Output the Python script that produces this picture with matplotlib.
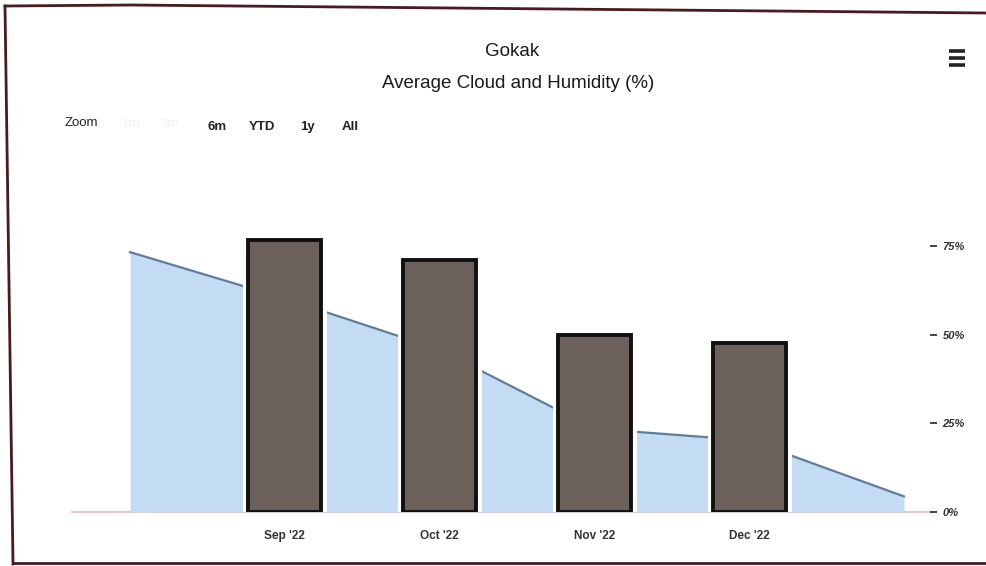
import matplotlib
matplotlib.use("Agg")
import matplotlib.pyplot as plt
from matplotlib.lines import Line2D
import matplotlib.patheffects as pe

# ---- data ----
area_positions = [0, 1, 2, 3, 4, 5]          # Aug '22 .. Jan '23
area_values = [73.3, 60.2, 45.8, 23.5, 20.2, 4.4]
bar_positions = [1, 2, 3, 4]
bar_labels = ["Sep '22", "Oct '22", "Nov '22", "Dec '22"]
bar_values = [76.7, 71.0, 49.9, 47.6]
y_ticks = [0, 25, 50, 75]
y_tick_labels = ["0%", "25%", "50%", "75%"]
title = "Gokak"
subtitle = "Average Cloud and Humidity (%)"
range_buttons = ["6m", "YTD", "1y", "All"]

W, H = 986, 566
fig = plt.figure(figsize=(W / 100, H / 100), dpi=100)
fig.patch.set_facecolor("white")

def fx(px):
    return px / W

def fy(py):
    return 1 - py / H

ax_left, ax_right, ax_top, ax_bottom = 72, 930, 200, 512
ax = fig.add_axes([fx(ax_left), fy(ax_bottom), fx(ax_right - ax_left), (ax_bottom - ax_top) / H])
ax.set_xlim(-0.375, 5.168)
ax.set_ylim(0, 88)

ax.fill_between(area_positions, area_values, 0, color="#c3dbf3", lw=0, zorder=1)
ax.plot(area_positions, area_values, color="#5f7d9c", lw=1.6, zorder=2)

bars = ax.bar(bar_positions, bar_values, width=0.47, color="#6c605a",
              edgecolor="#111111", linewidth=2.8, zorder=3)
for b in bars:
    b.set_path_effects([pe.Stroke(linewidth=8, foreground="white"), pe.Normal()])

for s in ["top", "left", "right"]:
    ax.spines[s].set_visible(False)
ax.spines["bottom"].set_color("#e6b8b8")
ax.spines["bottom"].set_linewidth(1.2)
ax.spines["bottom"].set_zorder(0)

ax.set_xticks(bar_positions)
ax.set_xticklabels(bar_labels, fontsize=8.5, color="#333333", fontweight="bold",
                   family=["Liberation Sans", "DejaVu Sans"])
ax.tick_params(axis="x", length=0, pad=13)

ax.yaxis.tick_right()
ax.set_yticks(y_ticks)
ax.set_yticklabels(y_tick_labels, fontsize=8, color="#333333", fontstyle="italic",
                   fontweight="bold", family=["Liberation Sans", "DejaVu Sans"])
ax.tick_params(axis="y", length=5, width=1.3, color="#333333", pad=4)

# titles
fig.text(fx(512), fy(52), title, ha="center", va="center", fontsize=13.5,
         color="#1a1a1a", family=["Liberation Sans", "DejaVu Sans"])
fig.text(fx(518), fy(84), subtitle, ha="center", va="center", fontsize=13.5,
         color="#1a1a1a", family=["Liberation Sans", "DejaVu Sans"])

# range selector
fig.text(fx(65), fy(123), "Zoom", ha="left", va="center", fontsize=9.5,
         color="#222222", family=["Liberation Sans", "DejaVu Sans"])
for lbl, x in zip(["1m", "3m"], [122, 160]):
    fig.text(fx(x), fy(124), lbl, ha="left", va="center", fontsize=9.5,
             color="#f0f0f0", family=["Liberation Sans", "DejaVu Sans"])
for lbl, x in zip(range_buttons, [207, 249, 300, 342]):
    fig.text(fx(x), fy(127), lbl, ha="left", va="center", fontsize=9.5,
             color="#222222", fontweight="bold", family=["Liberation Sans", "DejaVu Sans"])

# hamburger menu
for yy in [51, 58, 65]:
    fig.add_artist(Line2D([fx(949), fx(965)], [fy(yy), fy(yy)], color="#222222", lw=2.6,
                          solid_capstyle="butt"))

# photo frame
frame = "#4a1a1e"
fig.add_artist(Line2D([fx(5), fx(130), fx(986)], [fy(6), fy(5), fy(13)], color=frame, lw=2))
fig.add_artist(Line2D([fx(5), fx(13)], [fy(6), fy(564)], color=frame, lw=2))
fig.add_artist(Line2D([fx(13), fx(986)], [fy(563), fy(563)], color=frame, lw=2))

fig.savefig("out.png", dpi=100, facecolor="white")
